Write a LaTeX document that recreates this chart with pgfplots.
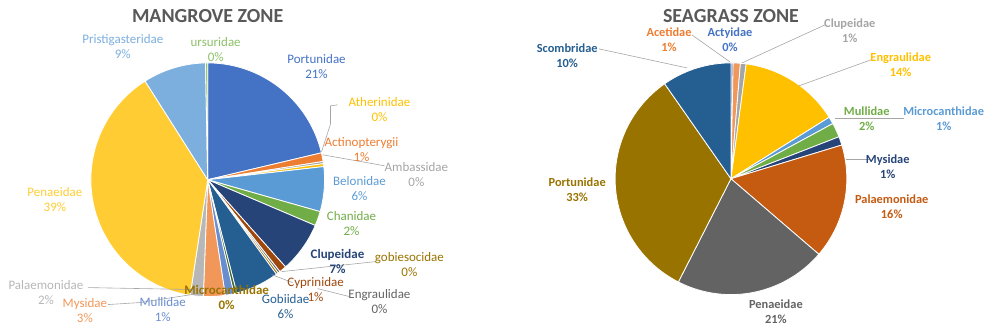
\documentclass[border=0pt]{standalone}
\usepackage{pgfplots}
\pgfplotsset{compat=1.18}
\usepackage{fontspec}
\setmainfont{Carlito}
\definecolor{k1}{HTML}{4472C4}
\definecolor{k2}{HTML}{ED7D31}
\definecolor{k3}{HTML}{A5A5A5}
\definecolor{k4}{HTML}{FFC000}
\definecolor{k5}{HTML}{5B9BD5}
\definecolor{k6}{HTML}{70AD47}
\definecolor{k7}{HTML}{264478}
\definecolor{k8}{HTML}{9E480E}
\definecolor{k9}{HTML}{636363}
\definecolor{k10}{HTML}{997300}
\definecolor{k11}{HTML}{255E91}
\definecolor{k12}{HTML}{43682B}
\definecolor{k13}{HTML}{698ED0}
\definecolor{k14}{HTML}{F1975A}
\definecolor{k15}{HTML}{B7B7B7}
\definecolor{k16}{HTML}{FFCD33}
\definecolor{k17}{HTML}{7CAFDD}
\definecolor{k18}{HTML}{8CC168}
\definecolor{s8}{HTML}{C55A11}
\definecolor{ttl}{HTML}{595959}
\definecolor{lead}{HTML}{A6A6A6}
% one wedge: value in percent, colour; angles run clockwise from north
\newcommand\pieslice[2]{%
  \pgfmathsetmacro\aend{\astart+#1*3.6}%
  \edef\doit{\noexpand\addplot[fill=#2, draw=white, line width=0.4pt, domain=\astart:\aend, samples=60]
    ({\cx+\R*sin(x)},{\cy-\R*cos(x)}) -- (axis cs:\cx,\cy) -- cycle;}%
  \doit
  \global\let\astart\aend
}
\begin{document}
\begin{tikzpicture}[
  lab/.style={font=\fontsize{6.5}{7.5}\selectfont, align=center, inner sep=0pt},
  labb/.style={font=\fontsize{6.2}{7.4}\bfseries\selectfont, align=center, inner sep=0pt},
  ttlst/.style={font=\fontsize{10}{11}\bfseries\selectfont, text=ttl, inner sep=0pt},
  ld/.style={lead, line width=0.3pt},
]
\begin{axis}[
  width=492pt, height=165.5pt, scale only axis,
  xmin=0, xmax=984, ymin=0, ymax=331, y dir=reverse,
  hide axis, clip=false,
]
\path (axis cs:0,0) rectangle (axis cs:984,331);
% ---------------- MANGROVE ZONE ----------------
\def\cx{208}\def\cy{180}\def\R{117}\gdef\astart{0}
\pieslice{21.3}{k1}   % Portunidae
\pieslice{1.2}{k2}    % Actinopterygii
\pieslice{0.3}{k3}    % Ambassidae
\pieslice{0.4}{k4}    % Atherinidae
\pieslice{6.2}{k5}    % Belonidae
\pieslice{2.0}{k6}    % Chanidae
\pieslice{7.0}{k7}    % Clupeidae
\pieslice{1.0}{k8}    % Cyprinidae
\pieslice{0.3}{k9}    % Engraulidae
\pieslice{0.3}{k10}   % gobiesocidae
\pieslice{6.0}{k11}   % Gobiidae
\pieslice{0.4}{k12}   % Microcanthidae
\pieslice{1.2}{k13}   % Mullidae
\pieslice{3.0}{k14}   % Mysidae
\pieslice{1.8}{k15}   % Palaemonidae
\pieslice{38.6}{k16}  % Penaeidae
\pieslice{8.7}{k17}   % Pristigasteridae
\pieslice{0.3}{k18}   % ursuridae
\node[ttlst] at (axis cs:208,16) {MANGROVE ZONE};
\draw[ld] (axis cs:322,152) -- (axis cs:331,124) -- (axis cs:331,106) -- (axis cs:338,105);
\draw[ld] (axis cs:323,155) -- (axis cs:385,166);
\draw[ld] (axis cs:282,272) -- (axis cs:376,262);
\draw[ld] (axis cs:272,275) -- (axis cs:293,283);
\draw[ld] (axis cs:318,289) -- (axis cs:350,297);
\draw[ld] (axis cs:88,288) -- (axis cs:195,290);
\draw[ld] (axis cs:108,305) -- (axis cs:140,303) -- (axis cs:205,293);
\node[lab, text=k17] at (axis cs:123,47) {Pristigasteridae\\9\%};
\node[lab, text=k18] at (axis cs:216,50) {ursuridae\\0\%};
\node[lab, text=k1] at (axis cs:317,67) {Portunidae\\21\%};
\node[lab, text=k4] at (axis cs:380,110) {Atherinidae\\0\%};
\node[lab, text=k2] at (axis cs:362,150) {Actinopterygii\\1\%};
\node[lab, text=k3] at (axis cs:417,175) {Ambassidae\\0\%};
\node[lab, text=k5] at (axis cs:360,189) {Belonidae\\6\%};
\node[lab, text=k6] at (axis cs:352,224) {Chanidae\\2\%};
\node[lab, text=k7, font=\fontsize{6.5}{7.5}\bfseries\selectfont] at (axis cs:338,262) {Clupeidae\\7\%};
\node[lab, text=k10] at (axis cs:410,265) {gobiesocidae\\0\%};
\node[lab, text=k8] at (axis cs:316,290) {Cyprinidae\\1\%};
\node[lab, text=k9] at (axis cs:380,302) {Engraulidae\\0\%};
\node[lab, text=k11] at (axis cs:286,307) {Gobiidae\\6\%};
\node[lab, text=k10, font=\fontsize{6.5}{7.5}\bfseries\selectfont] at (axis cs:227,298) {Microcanthidae\\0\%};
\node[lab, text=k13] at (axis cs:163,310) {Mullidae\\1\%};
\node[lab, text=k14] at (axis cs:85,311) {Mysidae\\3\%};
\node[lab, text=k15] at (axis cs:46,293) {Palaemonidae\\2\%};
\node[lab, text=k16] at (axis cs:55,200) {Penaeidae\\39\%};
% ---------------- SEAGRASS ZONE ----------------
\def\cx{732}\def\cy{179}\def\R{116}\gdef\astart{0}
\pieslice{0.3}{k1}    % Actyidae
\pieslice{1.0}{k14}   % Acetidae
\pieslice{0.8}{k3}    % Clupeidae
\pieslice{14.0}{k4}   % Engraulidae
\pieslice{1.0}{k5}    % Microcanthidae
\pieslice{2.0}{k6}    % Mullidae
\pieslice{1.2}{k7}    % Mysidae
\pieslice{16.0}{s8}   % Palaemonidae
\pieslice{21.2}{k9}   % Penaeidae
\pieslice{32.8}{k10}  % Portunidae
\pieslice{9.7}{k11}   % Scombridae
\node[ttlst] at (axis cs:732,16) {SEAGRASS ZONE};
\draw[ld] (axis cs:600,49) -- (axis cs:688,68);
\draw[ld] (axis cs:693,35) -- (axis cs:731,62);
\draw[ld] (axis cs:826,25) -- (axis cs:743,63);
\draw[ld] (axis cs:872,60) -- (axis cs:800,86);
\draw[ld] (axis cs:836,118) -- (axis cs:905,118);
\draw[ld] (axis cs:847,160) -- (axis cs:870,160);
\node[labb, text=k11] at (axis cs:568,56) {Scombridae\\10\%};
\node[labb, text=k2] at (axis cs:670,40) {Acetidae\\1\%};
\node[labb, text=k1] at (axis cs:731,40) {Actyidae\\0\%};
\node[labb, text=k3] at (axis cs:851,31) {Clupeidae\\1\%};
\node[labb, text=k4] at (axis cs:902,65) {Engraulidae\\14\%};
\node[labb, text=k6] at (axis cs:868,119) {Mullidae\\2\%};
\node[labb, text=k5] at (axis cs:945,119) {Microcanthidae\\1\%};
\node[labb, text=k7] at (axis cs:889,167) {Mysidae\\1\%};
\node[labb, text=s8] at (axis cs:893,207) {Palaemonidae\\16\%};
\node[labb, text=k9] at (axis cs:777,312) {Penaeidae\\21\%};
\node[labb, text=k10] at (axis cs:578,190) {Portunidae\\33\%};
\end{axis}
\end{tikzpicture}
\end{document}
